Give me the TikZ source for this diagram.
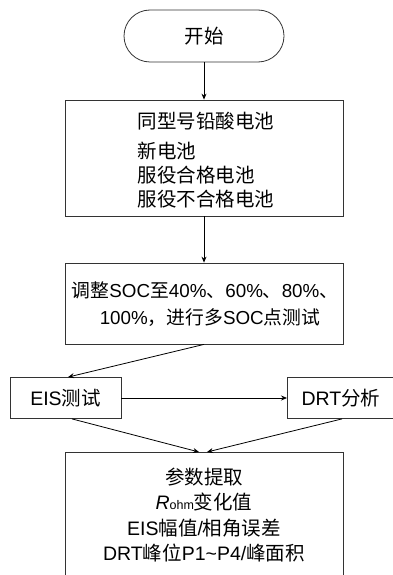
\documentclass[tikz,border=0pt]{standalone}
\usepackage{fontspec}
\setmainfont{Liberation Sans}
\newfontfamily\cjk{Noto Sans CJK SC}
\usetikzlibrary{arrows.meta}
\begin{document}
\begin{tikzpicture}[x=1pt,y=-1pt,
  every node/.style={font=\fontsize{19.5}{24}\selectfont},
  box/.style={draw=black!80,line width=0.8pt,inner sep=0pt},
  term/.style={draw=black!80,line width=0.8pt,rounded corners=26pt,inner sep=0pt},
  arr/.style={-{Stealth[length=6pt,width=5pt]},line width=0.8pt,black}]
\useasboundingbox (0,0) rectangle (393,575);
\clip (0,0) rectangle (393,575);
% start
\node[term,minimum width=160pt,minimum height=52pt] (start) at (204,36) {{\cjk 开始}};
% box 1
\node[box,minimum width=278pt,minimum height=116pt] (b1) at (204,158) {};
\node[align=left,inner sep=0pt] (t1) at (206,160) {{\cjk 同型号铅酸电池}\\[6pt]{\cjk 新电池}\\{\cjk 服役合格电池}\\{\cjk 服役不合格电池}};
% box 2
\node[box,minimum width=278pt,minimum height=81pt] (b2) at (204,303.5) {};
\node[align=center,inner sep=0pt,font=\fontsize{18.8}{27}\selectfont] (t2) at (205,304) {{\cjk 调整}SOC{\cjk 至}40\%{\cjk 、}60\%{\cjk 、}80\%{\cjk 、}\\\hspace{10pt}100\%{\cjk ，进行多}SOC{\cjk 点测试}};
% EIS / DRT
\node[box,minimum width=111pt,minimum height=41pt] (eis) at (65.5,398) {EIS{\cjk 测试}};
\node[box,minimum width=120pt,minimum height=41pt,anchor=west] (drt) at (287,398) {};
\node (drtt) at (341,398) {DRT{\cjk 分析}};
% bottom box
\node[box,minimum width=278pt,minimum height=160pt,anchor=north] (b3) at (204,452) {};
\node[align=center,inner sep=0pt,font=\fontsize{19.5}{25.5}\selectfont] (t3) at (204,515) {{\cjk 参数提取}\\\textit{R}{\fontsize{12.5}{12}\selectfont ohm}{\cjk 变化值}\\EIS{\cjk 幅值}/{\cjk 相角误差}\\DRT{\cjk 峰位}P1\textasciitilde P4/{\cjk 峰面积}};
% connectors
\draw[arr] (start.south) -- (b1.north);
\draw[arr] (b1.south) -- (b2.north);
\draw[arr] (b2.south) -- (eis.north -| 68,0);
\draw[arr] (eis.east) -- (eis.east -| drt.west);
\coordinate (m1) at (199,452);
\coordinate (m2) at (207,452);
\draw[arr] (eis.south -| 72,0) -- (m1);
\draw[arr] (drt.south -| 342,0) -- (m2);
\end{tikzpicture}
\end{document}
